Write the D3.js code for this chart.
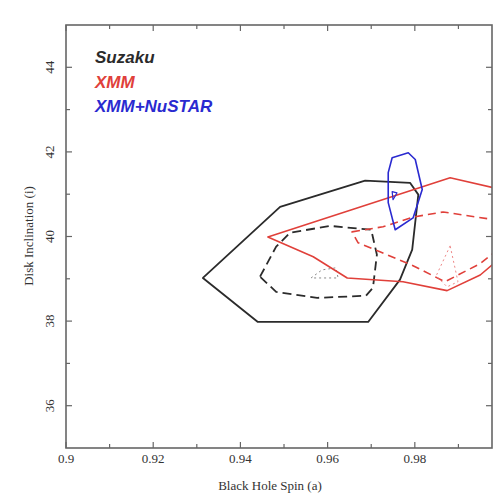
<!DOCTYPE html>
<html>
<head>
<meta charset="utf-8">
<script src="https://cdn.jsdelivr.net/npm/d3@7"></script>
<style>
  body { margin: 0; background: #fff; }
  svg { display: block; }
  .tick-label { font-family: "Liberation Serif", "DejaVu Serif", serif; font-size: 13px; fill: #333; }
  .axis-title { font-family: "Liberation Serif", "DejaVu Serif", serif; font-size: 13px; fill: #333; }
  .legend { font-family: "Liberation Sans", Arial, sans-serif; font-size: 17px; font-style: italic; font-weight: bold; }
</style>
</head>
<body>
<svg id="chart" width="493" height="497"></svg>
<script>
// axis values
var xTicks = [0.9, 0.92, 0.94, 0.96, 0.98];
var xMinor = [0.91, 0.93, 0.95, 0.97, 0.99];
var yTicks = [36, 38, 40, 42, 44];
var yMinor = [37, 39, 41, 43];

var legendNames = ["Suzaku", "XMM", "XMM+NuSTAR"];

// contours: [spin, inclination]
var suzakuSolid = [[0.9314, 39.02], [0.9491, 40.70], [0.9686, 41.32], [0.9789, 41.27], [0.9808, 40.99],
                   [0.9794, 39.69], [0.9766, 38.98], [0.9693, 37.98], [0.9440, 37.98]];
var suzakuDashed = [[0.9445, 39.05], [0.9482, 39.76], [0.9514, 40.09], [0.9606, 40.25], [0.9700, 40.16],
                    [0.9713, 39.57], [0.9704, 38.79], [0.9688, 38.60], [0.9576, 38.55], [0.9482, 38.69]];
var suzakuDotted = [[0.9562, 39.02], [0.9587, 39.21], [0.9619, 39.26], [0.9624, 39.02]];

var xmmSolid = [[0.9463, 39.99], [0.9881, 41.39], [1.0019, 41.06], [1.0019, 39.69], [0.9950, 39.09],
                [0.9874, 38.72], [0.9773, 38.93], [0.9645, 39.02], [0.9567, 39.52]];
var xmmDashed = [[0.9656, 40.11], [0.9727, 40.23], [0.9796, 40.46], [0.9865, 40.58], [1.0019, 40.34],
                 [1.0019, 39.92], [0.9950, 39.36], [0.9869, 38.93], [0.9796, 39.31], [0.9720, 39.64], [0.9670, 39.85]];
var xmmDotted = [[0.9881, 39.78], [0.9849, 39.07], [0.9874, 38.81], [0.9899, 38.93]];

var nustarSolid = [[0.9748, 41.86], [0.9785, 41.98], [0.9801, 41.82], [0.9817, 41.11], [0.9796, 40.44],
                   [0.9755, 40.16], [0.9739, 40.80], [0.9739, 41.51]];
var nustarInner = [[0.9748, 41.06], [0.9759, 41.03], [0.9750, 40.87]];

var colors = { black: "#2b2b2b", red: "#e0403a", blue: "#2a2ad0" };

var svg = d3.select("#chart");
var pLeft = 66, pRight = 492, pTop = 25, pBottom = 448;

var x = d3.scaleLinear().domain([0.9, 0.9977]).range([pLeft, pRight]);
var y = d3.scaleLinear().domain([35, 45]).range([pBottom, pTop]);

svg.append("clipPath").attr("id", "plotclip")
  .append("rect").attr("x", pLeft).attr("y", pTop).attr("width", pRight - pLeft).attr("height", pBottom - pTop);

var line = d3.line().x(function(d) { return x(d[0]); }).y(function(d) { return y(d[1]); })
  .curve(d3.curveLinearClosed);

var contours = [
  { pts: suzakuSolid, color: colors.black, dash: null, w: 1.8 },
  { pts: suzakuDashed, color: colors.black, dash: "9,5", w: 1.8 },
  { pts: suzakuDotted, color: "#888", dash: "2,3", w: 1 },
  { pts: xmmSolid, color: colors.red, dash: null, w: 1.6 },
  { pts: xmmDashed, color: colors.red, dash: "8,5", w: 1.6 },
  { pts: xmmDotted, color: "#e88", dash: "2,3", w: 1 },
  { pts: nustarSolid, color: colors.blue, dash: null, w: 1.6 },
  { pts: nustarInner, color: colors.blue, dash: null, w: 1.2 }
];

var plot = svg.append("g").attr("clip-path", "url(#plotclip)");
plot.selectAll("path").data(contours).enter().append("path")
  .attr("d", function(d) { return line(d.pts); })
  .attr("fill", "none")
  .attr("stroke", function(d) { return d.color; })
  .attr("stroke-width", function(d) { return d.w; })
  .attr("stroke-dasharray", function(d) { return d.dash; })
  .attr("stroke-linejoin", "round");

// frame
svg.append("rect").attr("x", pLeft).attr("y", pTop).attr("width", pRight - pLeft).attr("height", pBottom - pTop)
  .attr("fill", "none").attr("stroke", "#666").attr("stroke-width", 1.6);

// inward ticks on all four sides
var tk = svg.append("g").attr("stroke", "#666").attr("stroke-width", 1.2);
function xt(vals, len) {
  vals.forEach(function(v) {
    tk.append("line").attr("x1", x(v)).attr("x2", x(v)).attr("y1", pBottom).attr("y2", pBottom - len);
    tk.append("line").attr("x1", x(v)).attr("x2", x(v)).attr("y1", pTop).attr("y2", pTop + len);
  });
}
function yt(vals, len) {
  vals.forEach(function(v) {
    tk.append("line").attr("y1", y(v)).attr("y2", y(v)).attr("x1", pLeft).attr("x2", pLeft + len);
    tk.append("line").attr("y1", y(v)).attr("y2", y(v)).attr("x1", pRight).attr("x2", pRight - len);
  });
}
xt(xTicks, 6); xt(xMinor, 4); yt(yTicks, 6); yt(yMinor, 4);

svg.selectAll(".xl").data(xTicks).enter().append("text")
  .attr("class", "tick-label").attr("x", function(d) { return x(d); }).attr("y", 463)
  .attr("text-anchor", "middle").text(function(d) { return d3.format("")(d); });

svg.selectAll(".yl").data(yTicks).enter().append("text")
  .attr("class", "tick-label")
  .attr("transform", function(d) { return "translate(54," + y(d) + ") rotate(-90)"; })
  .attr("text-anchor", "middle").text(function(d) { return d; });

svg.append("text").attr("class", "axis-title").attr("x", 270).attr("y", 490)
  .attr("text-anchor", "middle").text("Black Hole Spin (a)");
svg.append("text").attr("class", "axis-title")
  .attr("transform", "translate(33,236) rotate(-90)")
  .attr("text-anchor", "middle").text("Disk Inclination (i)");

// legend
var legendColors = [colors.black, colors.red, colors.blue];
svg.selectAll(".legend").data(legendNames).enter().append("text")
  .attr("class", "legend").attr("x", 95).attr("y", function(d, i) { return 63 + i * 24.5; })
  .attr("fill", function(d, i) { return legendColors[i]; }).text(function(d) { return d; });
</script>
</body>
</html>
